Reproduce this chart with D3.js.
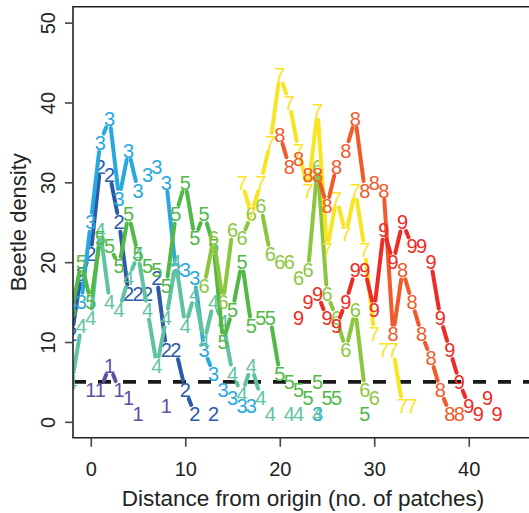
<!DOCTYPE html>
<html><head><meta charset="utf-8">
<script src="https://cdn.jsdelivr.net/npm/d3@7"></script>
<style>body{margin:0;background:#fff}</style>
</head><body>
<svg id="c" width="529" height="513"></svg>
<script>
// ---- data ----
const seriesNames  = ["1","2","3","4","5","6","7","8","9"];
const seriesColors = ["#5E4FA2","#2B5BA8","#29A8E0","#5FC3A0","#52B848","#8CC63F","#F9E423","#F15A2B","#EE2B25"];
const seriesStart  = [0, -2, -2, -2, -2, 12, 16, 20, 22];   // distance of first value
const s1 = [4,4,7,4,3,1,null,null,2];
const s2 = [11,18.5,21,32,31,25,16,16,16,18,9,9,4,1,null,1];
const s3 = [15,15,25,35,38,28,34,29,31,32,30,19,19,18,9,6,4,3,2,2,null,null,null,null,null,null,1];
const s4 = [5,12,13,24,15,14,18,21,14,7,13,20,12,16,10,15,12.5,6,3.5,7,3,1,null,1,1,null,1];
const s5 = [14,20,15,23,22,19.5,26,21,19.5,19,17,26,30,23,26,22,10,14,20,12,13,13,6,5,4,3,5,3,3,null,null,1];
const s6 = [17,23,15,24,23,26,27,21,20,20,18,19,32,16,13,9,14,4,3];
const s7 = [30,26,30,35,43.5,40,34,29,39,21.5,28,23.5,29,21.5,11,9,9,2,2];
const s8 = [36,32,33,31,31,27,32,34,38,29,30,29,11,19,15,11,8,4,1,1];
const s9 = [13,15,16,13,12,15,19,19,14,24,20,25,22,22,20,13,9,5,2,1,3,1];
const seriesValues = [s1,s2,s3,s4,s5,s6,s7,s8,s9];
const xTicks = [0,10,20,30,40];
const yTicks = [0,10,20,30,40,50];
const threshold = 5;
const xTitle = "Distance from origin (no. of patches)";
const yTitle = "Beetle density";

// ---- layout ----
const L = 73, T = 6.7, B = 437.8, R = 533;
const font = "'Liberation Sans', Arial, Helvetica, sans-serif";
const svg = d3.select("#c");
const x = d3.scaleLinear().domain([-1.88, 46.8]).range([L, R]);
const y = d3.scaleLinear().domain([-2, 52]).range([B, T]);

svg.append("defs").append("clipPath").attr("id","plot")
  .append("rect").attr("x",L).attr("y",T).attr("width",R-L).attr("height",B-T);

const plot = svg.append("g").attr("clip-path","url(#plot)");

// dashed threshold
plot.append("line")
  .attr("x1",x(-1.88)).attr("x2",x(46.8))
  .attr("y1",y(threshold)).attr("y2",y(threshold))
  .attr("stroke","#1a1a1a").attr("stroke-width",3.6)
  .attr("stroke-dasharray","13,12");

const gap = 9.5;
seriesValues.forEach((vals, i) => {
  const pts = vals.map((v, j) => v == null ? null : {x: seriesStart[i] + j, y: v});
  const g = plot.append("g");
  const segs = [];
  for (let j = 0; j < pts.length - 1; j++) {
    const a = pts[j], b = pts[j+1];
    if (!a || !b) continue;
    const ax = x(a.x), ay = y(a.y), bx = x(b.x), by = y(b.y);
    const len = Math.hypot(bx-ax, by-ay);
    if (len <= 2*gap) continue;
    const ux = (bx-ax)/len, uy = (by-ay)/len;
    segs.push({x1: ax+ux*gap, y1: ay+uy*gap, x2: bx-ux*gap, y2: by-uy*gap});
  }
  g.selectAll("line").data(segs).join("line")
    .attr("x1",d=>d.x1).attr("y1",d=>d.y1).attr("x2",d=>d.x2).attr("y2",d=>d.y2)
    .attr("stroke",seriesColors[i]).attr("stroke-width",4).attr("stroke-linecap","round");
  g.selectAll("text").data(pts.filter(p=>p)).join("text")
    .attr("x",d=>x(d.x)).attr("y",d=>y(d.y)).attr("dy","0.36em")
    .attr("text-anchor","middle").attr("font-family",font).attr("font-size",20)
    .attr("fill",seriesColors[i]).text(seriesNames[i]);
});

// box (right side lies outside the picture)
svg.append("path")
  .attr("d",`M${R+5},${T}H${L}V${B}H${R+5}`)
  .attr("fill","none").attr("stroke","#222").attr("stroke-width",1.6);

// axes
const ax = svg.append("g").attr("transform",`translate(0,${B})`)
  .call(d3.axisBottom(x).tickValues(xTicks).tickSize(9).tickPadding(15.5).tickFormat(d3.format("d")));
const ay = svg.append("g").attr("transform",`translate(${L},0)`)
  .call(d3.axisLeft(y).tickValues(yTicks).tickSize(8).tickFormat(d3.format("d")));
[ax, ay].forEach(a => {
  a.select(".domain").remove();
  a.selectAll(".tick line").attr("stroke","#444").attr("stroke-width",1.6);
  a.selectAll(".tick text").attr("font-family",font).attr("font-size",20).attr("fill","#222");
});
ay.selectAll(".tick text")
  .attr("x",0).attr("y",0).attr("dy","0.36em").attr("text-anchor","middle")
  .attr("transform","translate(-25,0) rotate(-90)");

svg.append("text").attr("x",(L+R)/2).attr("y",498).attr("dy","0.36em")
  .attr("text-anchor","middle").attr("font-family",font).attr("font-size",22.5).attr("fill","#222")
  .text(xTitle);
svg.append("text").attr("transform",`translate(18,${(T+B)/2}) rotate(-90)`).attr("dy","0.36em")
  .attr("text-anchor","middle").attr("font-family",font).attr("font-size",22).attr("fill","#222")
  .text(yTitle);
</script>
</body></html>
